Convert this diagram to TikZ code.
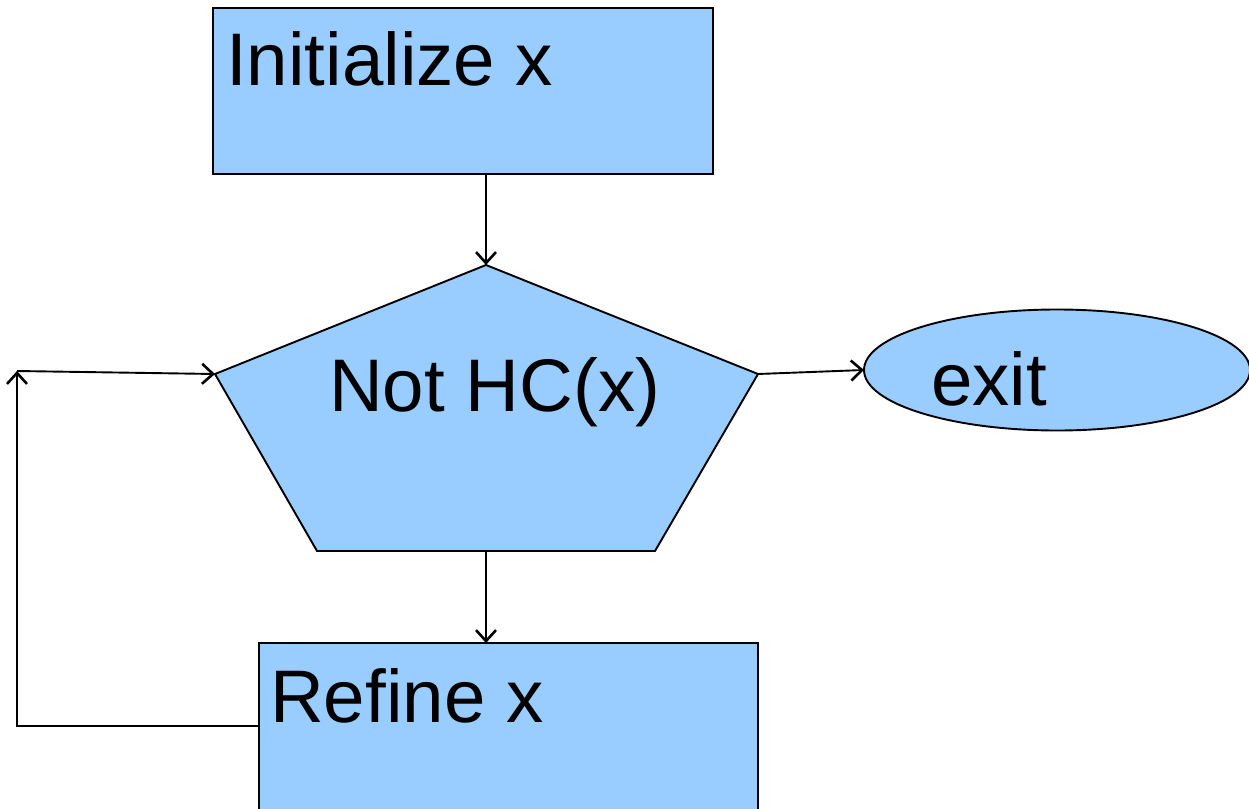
\documentclass[tikz,border=0pt]{standalone}
\usepackage{fontspec}
\setmainfont{Liberation Sans}
\usetikzlibrary{shapes.geometric,arrows.meta}
\definecolor{boxblue}{HTML}{99CCFF}
\tikzset{
  blk/.style={draw=black, fill=boxblue, line width=1.9pt, inner sep=0pt, outer sep=0pt},
  lbl/.style={font=\fontsize{74.5}{80}\selectfont, inner sep=0pt, anchor=base west},
  conn/.style={line width=1.9pt, -{Straight Barb[length=11pt,width=20pt,line width=2.6pt]}}
}
\begin{document}
\begin{tikzpicture}[x=1pt,y=-1pt]
\useasboundingbox (0,0) rectangle (1249,808);
\clip (0,0) rectangle (1249,808);

% process boxes
\node[blk, minimum width=500pt, minimum height=166pt, anchor=north west] (init) at (213,8) {};
\node[lbl] (initT) at (226,85) {Initialize x};

\node[blk, minimum width=499pt, minimum height=190pt, anchor=north west] (refine) at (259,643) {};
\node[lbl] (refineT) at (270,722) {Refine x};

% decision pentagon
\coordinate (pt) at (486,265);
\coordinate (pl) at (215,374);
\coordinate (pr) at (758,374);
\coordinate (pbl) at (317,551);
\coordinate (pbr) at (655,551);
\coordinate (pb) at (486,551);
\draw[blk, line join=miter] (pt) -- (pr) -- (pbr) -- (pbl) -- (pl) -- cycle;
\node[lbl] (testT) at (329,411) {Not HC(x)};

% terminal
\node[blk, ellipse, minimum width=386pt, minimum height=121pt] (exit) at (1057,370) {};
\node[lbl] (exitT) at (931,405) {exit};

% flow
\draw[conn] (init.south -| pt) -- (pt);
\draw[conn] (pr) -- (exit.west);
\draw[conn] (pb) -- (refine.north -| pb);
\coordinate (corner) at (17,371);
\draw[conn] (refine.west |- 0,726) -- (17,726) -- (corner);
\draw[conn] (corner) -- (pl);
\end{tikzpicture}
\end{document}
